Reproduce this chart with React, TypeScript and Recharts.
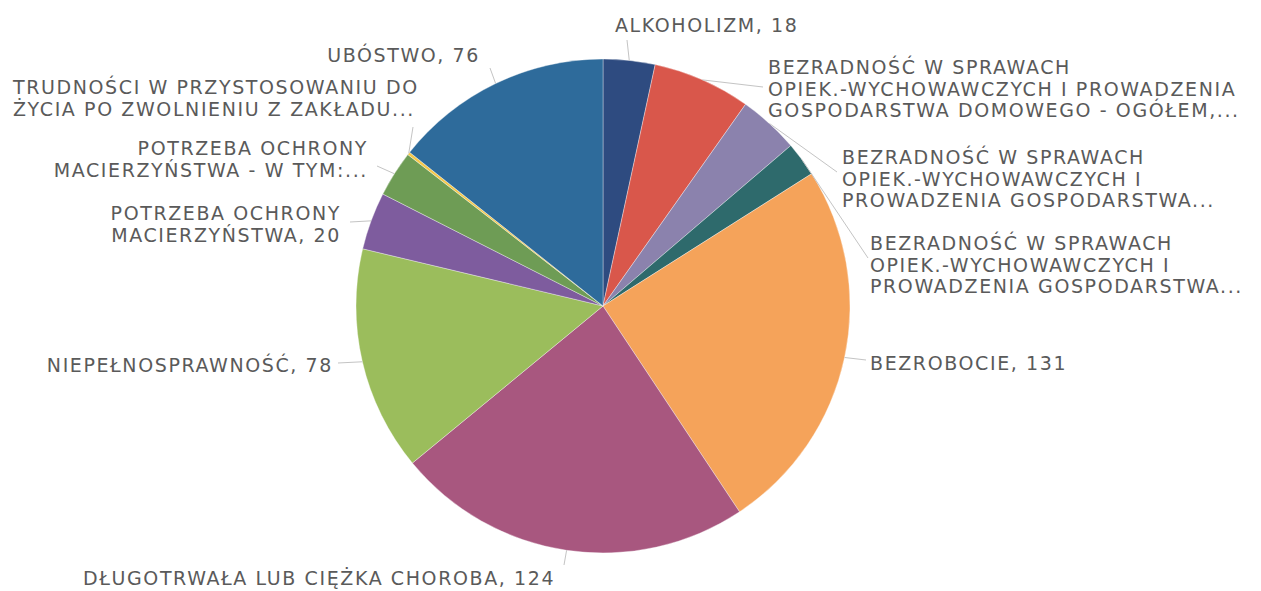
import React from "react";
import { PieChart, Pie, Cell } from "recharts";

// slices clockwise from 12 o'clock
const categories = [
  "ALKOHOLIZM",
  "BEZRADNOŚĆ W SPRAWACH OPIEK.-WYCHOWAWCZYCH I PROWADZENIA GOSPODARSTWA DOMOWEGO - OGÓŁEM",
  "BEZRADNOŚĆ W SPRAWACH OPIEK.-WYCHOWAWCZYCH I PROWADZENIA GOSPODARSTWA (2)",
  "BEZRADNOŚĆ W SPRAWACH OPIEK.-WYCHOWAWCZYCH I PROWADZENIA GOSPODARSTWA (3)",
  "BEZROBOCIE",
  "DŁUGOTRWAŁA LUB CIĘŻKA CHOROBA",
  "NIEPEŁNOSPRAWNOŚĆ",
  "POTRZEBA OCHRONY MACIERZYŃSTWA",
  "POTRZEBA OCHRONY MACIERZYŃSTWA - W TYM",
  "TRUDNOŚCI W PRZYSTOSOWANIU DO ŻYCIA PO ZWOLNIENIU Z ZAKŁADU",
  "UBÓSTWO",
];

const values = [18, 34, 21, 12, 131, 124, 78, 20, 16, 1, 76];

const labelLines = [
  ["ALKOHOLIZM, 18"],
  ["BEZRADNOŚĆ W SPRAWACH", "OPIEK.-WYCHOWAWCZYCH I PROWADZENIA", "GOSPODARSTWA DOMOWEGO - OGÓŁEM,..."],
  ["BEZRADNOŚĆ W SPRAWACH", "OPIEK.-WYCHOWAWCZYCH I", "PROWADZENIA GOSPODARSTWA..."],
  ["BEZRADNOŚĆ W SPRAWACH", "OPIEK.-WYCHOWAWCZYCH I", "PROWADZENIA GOSPODARSTWA..."],
  ["BEZROBOCIE, 131"],
  ["DŁUGOTRWAŁA LUB CIĘŻKA CHOROBA, 124"],
  ["NIEPEŁNOSPRAWNOŚĆ, 78"],
  ["POTRZEBA OCHRONY", "MACIERZYŃSTWA, 20"],
  ["POTRZEBA OCHRONY", "MACIERZYŃSTWA - W TYM:..."],
  ["TRUDNOŚCI W PRZYSTOSOWANIU DO", "ŻYCIA PO ZWOLNIENIU Z ZAKŁADU..."],
  ["UBÓSTWO, 76"],
];

const colors = [
  "#2e4b80",
  "#d9574b",
  "#8b82ad",
  "#2e6a6c",
  "#f5a35a",
  "#a8577f",
  "#9bbd5c",
  "#7e5c9e",
  "#6e9c55",
  "#f5c84a",
  "#2e6b9b",
];

// where each label sits (text block x / first line centre) and where its leader ends
const labelLayout = [
  { x: 615, y: 25, anchor: "start", ex: 627, ey: 40 },
  { x: 768, y: 67, anchor: "start", ex: 763, ey: 87 },
  { x: 842, y: 157, anchor: "start", ex: 837, ey: 172 },
  { x: 870, y: 243, anchor: "start", ex: 868, ey: 258 },
  { x: 870, y: 363, anchor: "start", ex: 866, ey: 360 },
  { x: 83, y: 578, anchor: "start", ex: 564, ey: 565 },
  { x: 333, y: 365, anchor: "end", ex: 338, ey: 363 },
  { x: 341, y: 213, anchor: "end", ex: 350, ey: 222 },
  { x: 368, y: 148, anchor: "end", ex: 377, ey: 166 },
  { x: 13, y: 87, anchor: "start", ex: 413, ey: 127 },
  { x: 480, y: 55, anchor: "end", ex: 490, ey: 68 },
];

const data = categories.map((name, i) => ({ name, value: values[i] }));

const RADIAN = Math.PI / 180;
const LINE_H = 21.5;

function renderLabel(props: any) {
  const { cx, cy, midAngle, outerRadius, index } = props;
  const lay = labelLayout[index];
  const sx = cx + outerRadius * Math.cos(-midAngle * RADIAN);
  const sy = cy + outerRadius * Math.sin(-midAngle * RADIAN);
  return (
    <g key={`lbl-${index}`}>
      <line x1={sx} y1={sy} x2={lay.ex} y2={lay.ey} stroke="#c4c4c4" strokeWidth={1} />
      <text
        x={lay.x}
        y={lay.y}
        textAnchor={lay.anchor}
        fill="#5a5a5a"
        fontFamily="DejaVu Sans"
        fontSize={19}
        letterSpacing={1.6}
        dominantBaseline="central"
      >
        {labelLines[index].map((t, j) => (
          <tspan key={j} x={lay.x} y={lay.y + j * LINE_H}>
            {t}
          </tspan>
        ))}
      </text>
    </g>
  );
}

export default function App() {
  return (
    <div style={{ position: "fixed", left: 0, top: 0, width: 1261, height: 591, background: "#fff" }}>
      <PieChart width={1261} height={591} margin={{ top: 0, right: 0, bottom: 0, left: 0 }}>
        <Pie
          data={data}
          dataKey="value"
          nameKey="name"
          cx={603}
          cy={306}
          outerRadius={247}
          startAngle={90}
          endAngle={-270}
          stroke="#ffffff"
          strokeOpacity={0.35}
          strokeWidth={1}
          label={renderLabel}
          labelLine={false}
          isAnimationActive={false}
        >
          {data.map((d, i) => (
            <Cell key={d.name} fill={colors[i]} />
          ))}
        </Pie>
      </PieChart>
    </div>
  );
}
